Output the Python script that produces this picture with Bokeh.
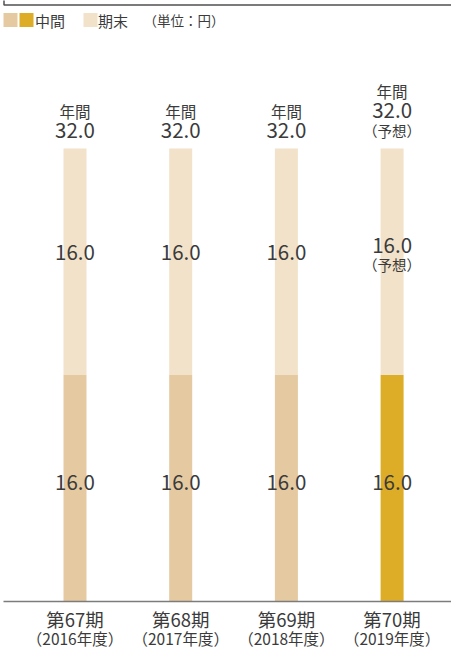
from bokeh.plotting import figure
from bokeh.models import Range1d, ColumnDataSource
from bokeh.core.properties import value
from bokeh.embed import file_html
from bokeh.resources import INLINE

# Dividend per share (yen), fiscal periods 67-70
periods = ["第67期", "第68期", "第69期", "第70期"]
years = ["（2016年度）", "（2017年度）", "（2018年度）", "（2019年度）"]
interim = [16.0, 16.0, 16.0, 16.0]
year_end = [16.0, 16.0, 16.0, 16.0]
forecast = [False, False, False, True]

W, H = 451, 664
FONT = "Noto Sans CJK JP"
TXT = "#3b3b3b"
C_INTERIM = "#E5C9A0"
C_INTERIM_FC = "#DEAD27"
C_END = "#F2E2C9"

# pixel scale of the data axes
SX = 105.7            # px per category step
SY = 14.156           # px per yen
X0 = -74.5 / SX
Y0 = -63.0 / SY
x_range = Range1d(X0, X0 + W / SX)
y_range = Range1d(Y0, Y0 + H / SY)

def px_x(px):
    return X0 + px / SX

def px_y(px_from_top):
    return Y0 + (H - px_from_top) / SY

def up(px):
    return px / SY

p = figure(width=W, height=H, x_range=x_range, y_range=y_range,
           x_axis_location=None, y_axis_location=None,
           toolbar_location=None, output_backend="svg", min_border=0)
p.outline_line_color = None
p.grid.visible = False
p.background_fill_color = "white"
p.border_fill_color = "white"

idx = list(range(len(periods)))
totals = [a + b for a, b in zip(interim, year_end)]
bw = 23 / SX

src = ColumnDataSource(dict(
    x=idx,
    interim=interim,
    total=totals,
    icolor=[C_INTERIM_FC if f else C_INTERIM for f in forecast],
))
p.vbar(x="x", bottom=0, top="interim", width=bw, source=src,
       fill_color="icolor", line_color=None)
p.vbar(x="x", bottom="interim", top="total", width=bw, source=src,
       fill_color=C_END, line_color=None)

# baseline
p.segment(x0=[px_x(3)], y0=[0], x1=[px_x(451)], y1=[0],
          line_color="#7c7c7c", line_width=1.5)

def txt(xs, ys, texts, size, align="center"):
    p.text(x=xs, y=ys, text=texts, text_font=value(FONT),
           text_font_size=f"{size}px", text_color=TXT,
           text_align=align, text_baseline="middle")

NUM = 20.5

# value labels on the interim segment
txt(idx, [v / 2 + up(6) for v in interim], [f"{v:.1f}" for v in interim], NUM)

# value labels on the year-end segment
ye_y = [i + e / 2 + (up(16.5) if f else up(9.5))
        for i, e, f in zip(interim, year_end, forecast)]
txt(idx, ye_y, [f"{v:.1f}" for v in year_end], NUM)
fc_idx = [i for i, f in zip(idx, forecast) if f]
txt(fc_idx, [interim[i] + year_end[i] / 2 - up(2.5) for i in fc_idx],
    ["（予想）"] * len(fc_idx), 14.5)

# annual totals above the bars
ann_lbl_y = [t + (up(58) if f else up(38)) for t, f in zip(totals, forecast)]
ann_val_y = [t + (up(38.5) if f else up(18)) for t, f in zip(totals, forecast)]
txt(idx, ann_lbl_y, ["年間"] * len(idx), 15.5)
txt(idx, ann_val_y, [f"{t:.1f}" for t in totals], NUM)
txt(fc_idx, [totals[i] + up(18) for i in fc_idx], ["（予想）"] * len(fc_idx), 14.5)

# category labels
txt(idx, [px_y(618)] * len(idx), periods, 18.5)
txt(idx, [px_y(637)] * len(idx), years, 15.5)

# frame edge at the top
p.line(x=[px_x(3.5), px_x(3.5), px_x(451)], y=[px_y(-2), px_y(4.5), px_y(4.5)],
       line_color="#505050", line_width=1.5)

# legend
sq = 14
p.rect(x=[px_x(10), px_x(26), px_x(90)], y=[px_y(19.5)] * 3,
       width=sq / SX, height=sq / SY,
       fill_color=[C_INTERIM, C_INTERIM_FC, C_END], line_color=None)
txt([px_x(34.5)], [px_y(19.5)], ["中間"], 15, "left")
txt([px_x(97.5)], [px_y(19.5)], ["期末"], 15, "left")
txt([px_x(143)], [px_y(19.5)], ["（単位：円）"], 13.5, "left")

open("out.html", "w").write(file_html(p, INLINE))
